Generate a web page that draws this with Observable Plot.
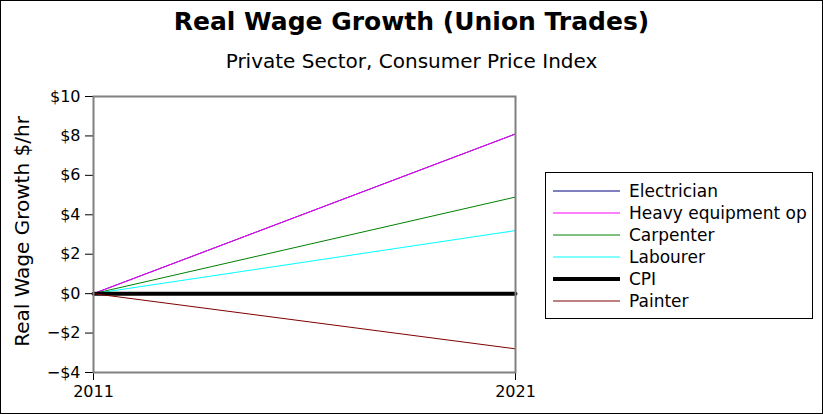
<!DOCTYPE html>
<html>
<head>
<meta charset="utf-8">
<script src="https://cdn.jsdelivr.net/npm/d3@7"></script>
<script src="https://cdn.jsdelivr.net/npm/@observablehq/plot@0.6"></script>
<style>
  html, body { margin: 0; padding: 0; background: #fff; }
  #wrap { position: relative; width: 823px; height: 414px; font-family: "DejaVu Sans", sans-serif; overflow: hidden; }
  #chart { position: absolute; left: 0; top: 0; }
  #border { position: absolute; left: 0; top: 0; width: 823px; height: 414px; box-sizing: border-box; border: 1px solid #000; pointer-events: none; }
  #title { position: absolute; left: 0; width: 823px; top: 7px; text-align: center; font-weight: bold; font-size: 25px; line-height: 30px; color: #000; }
  #subtitle { position: absolute; left: 0; width: 823px; top: 49px; text-align: center; font-size: 20px; line-height: 24px; color: #000; }
  #legend { position: absolute; left: 545px; top: 172px; width: 268px; height: 147px; box-sizing: border-box; border: 1px solid #000; background: #fff; }
  .row { position: absolute; left: 0; height: 22px; display: flex; align-items: center; font-size: 17px; color: #000; white-space: nowrap; }
  .row svg { margin-left: 7px; margin-right: 9px; }
</style>
</head>
<body>
<div id="wrap">
  <div id="chart"></div>
  <div id="title">Real Wage Growth (Union Trades)</div>
  <div id="subtitle">Private Sector, Consumer Price Index</div>
  <div id="legend"></div>
  <div id="border"></div>
</div>
<script>
const years = [2011, 2021];
const seriesNames = ["Electrician", "Heavy equipment op", "Carpenter", "Labourer", "CPI", "Painter"];
const seriesColors = ["#000080", "#ff00ff", "#008000", "#00ffff", "#000000", "#800000"];
const seriesWidths = [1, 1, 1, 1, 4, 1];
const electrician = [0, 8.1];
const heavyEquipment = [0, 8.1];
const carpenter = [0, 4.9];
const labourer = [0, 3.2];
const cpi = [0, 0];
const painter = [0, -2.8];
const yTicks = [-4, -2, 0, 2, 4, 6, 8, 10];
const xTicks = [2011, 2021];

const seriesValues = [electrician, heavyEquipment, carpenter, labourer, cpi, painter];
const rows = [];
seriesNames.forEach((name, i) => {
  years.forEach((yr, j) => rows.push({series: name, year: yr, value: seriesValues[i][j], idx: i}));
});

const lineMarks = seriesNames.map((name, i) =>
  Plot.line(rows.filter(r => r.series === name), {
    x: "year", y: "value", stroke: seriesColors[i], strokeWidth: seriesWidths[i]
  })
);

const fmtY = d => (d < 0 ? "\u2212$" : "$") + Math.abs(d);

const chart = Plot.plot({
  width: 823,
  height: 414,
  marginLeft: 93,
  marginRight: 308,
  marginTop: 96,
  marginBottom: 42,
  style: { fontFamily: "DejaVu Sans, sans-serif", fontSize: "16px", color: "#000", background: "transparent" },
  x: { domain: [2011, 2021], ticks: xTicks, tickFormat: d => String(d), label: null },
  y: { domain: [-4, 10], ticks: yTicks, tickFormat: fmtY, label: null },
  marks: [
    Plot.axisY({ ticks: yTicks, tickFormat: fmtY, tickSize: 8, tickPadding: 5, label: null, fontSize: 16, stroke: "#000" }),
    Plot.axisX({ ticks: xTicks, tickFormat: d => String(d), tickSize: 8, tickPadding: 5, label: null, fontSize: 16, stroke: "#000" }),
    ...lineMarks,
    Plot.frame({ stroke: "#808080", strokeWidth: 2 }),
    Plot.text(["Real Wage Growth $/hr"], { frameAnchor: "left", textAnchor: "middle", dx: -71, dy: -3, rotate: -90, fontSize: 20, fill: "#000" })
  ]
});
document.getElementById("chart").appendChild(chart);

const legend = document.getElementById("legend");
seriesNames.forEach((name, i) => {
  const row = document.createElement("div");
  row.className = "row";
  row.style.top = (7 + i * 22) + "px";
  const sw = seriesWidths[i];
  row.innerHTML = `<svg width="67" height="10"><line x1="0" x2="67" y1="5" y2="5" stroke="${seriesColors[i]}" stroke-width="${sw}" stroke-linecap="${sw > 1 ? "round" : "butt"}"/></svg><span>${name}</span>`;
  legend.appendChild(row);
});
</script>
</body>
</html>
